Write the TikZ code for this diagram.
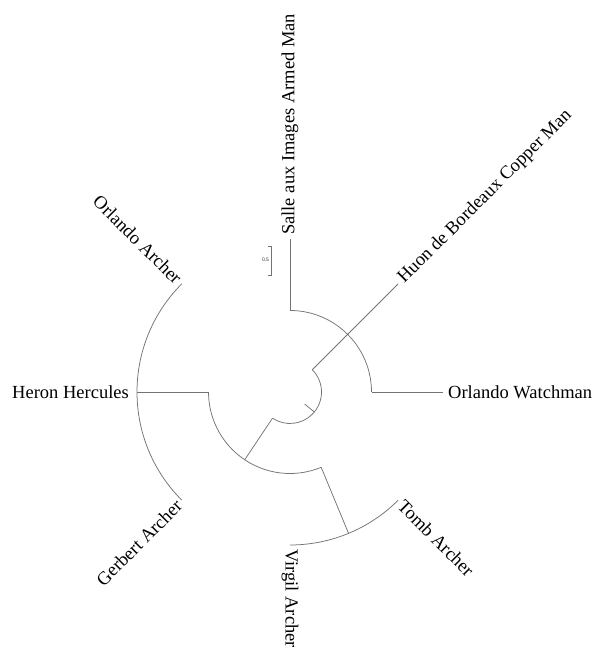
\documentclass[tikz,border=0pt]{standalone}
\usepackage{fontspec}
\setmainfont{Liberation Serif}
\newfontfamily\barfont{Liberation Sans}
\begin{document}
\begin{tikzpicture}[x=1pt,y=1pt,
  br/.style={draw=black!55, line width=0.75pt},
  lab/.style={font=\fontsize{18.5}{20}\selectfont, inner sep=0pt, text=black},
  rlab/.style={lab, anchor=west},
  llab/.style={lab, anchor=east}]
\useasboundingbox (0,0) rectangle (595,651);
\def\R{153}
\def\ri{31.5}
\def\rm{81.5}
\coordinate (C) at (290,259);
% tips
\coordinate (tSalle) at ([shift={(C)}]90:\R);
\coordinate (tHuon)  at ([shift={(C)}]45:\R);
\coordinate (tWatch) at ([shift={(C)}]0:\R);
\coordinate (tTomb)  at ([shift={(C)}]-45:\R);
\coordinate (tVirg)  at ([shift={(C)}]-90:\R);
\coordinate (tGerb)  at ([shift={(C)}]225:\R);
\coordinate (tHeron) at ([shift={(C)}]180:\R);
\coordinate (tOA)    at ([shift={(C)}]135:\R);
% internal nodes
\coordinate (nHuonIn) at ([shift={(C)}]45:\ri);
\coordinate (nSW0)    at ([shift={(C)}]0:\rm);
\coordinate (nSW90)   at ([shift={(C)}]90:\rm);
\coordinate (nHV180)  at ([shift={(C)}]180:\rm);
\coordinate (nVT)     at ([shift={(C)}]-67.5:\rm);
\coordinate (nVTout)  at ([shift={(C)}]-67.5:\R);
\coordinate (nHVin)   at ([shift={(C)}]-123.75:\ri);
\coordinate (nHVout)  at ([shift={(C)}]-123.75:\rm);
\coordinate (nRoot)   at ([shift={(C)}]-39.4:\ri);
\coordinate (nRootEnd) at ([shift={(C)}]-39.4:19);
% branches
\draw[br] (nHuonIn) -- (tHuon);
\draw[br] (nSW0) arc[start angle=0, end angle=90, radius=\rm];
\draw[br] (nSW90) -- (tSalle);
\draw[br] (nSW0) -- (tWatch);
\draw[br] (tOA) arc[start angle=135, end angle=225, radius=\R];
\draw[br] (nHV180) -- (tHeron);
\draw[br] (nHV180) arc[start angle=180, end angle=292.5, radius=\rm];
\draw[br] (nVT) -- (nVTout);
\draw[br] (tVirg) arc[start angle=270, end angle=315, radius=\R];
\draw[br] (nHVin) -- (nHVout);
\draw[br] (nHuonIn) arc[start angle=45, end angle=-123.75, radius=\ri];
\draw[br] (nRoot) -- (nRootEnd);
% labels
\node[rlab, rotate=90]  (lSalle) at ([shift={(C)}]90:157) {Salle aux Images Armed Man};
\node[rlab, rotate=45]  (lHuon)  at ([shift={(C)}]45:157) {Huon de Bordeaux Copper Man};
\node[rlab]             (lWatch) at ([shift={(C)}]0:158) {Orlando Watchman};
\node[rlab, rotate=-45] (lTomb)  at ([shift={(C)}]-45:157) {Tomb Archer};
\node[rlab, rotate=-90] (lVirg)  at ([shift={(C)}]-90:157) {Virgil Archer};
\node[llab, rotate=45]  (lGerb)  at ([shift={(C)}]225:157) {Gerbert Archer};
\node[llab]             (lHeron) at ([shift={(C)}]180:161) {Heron Hercules};
\node[llab, rotate=-45] (lOA)    at ([shift={(C)}]135:157) {Orlando Archer};
% scale bar
\coordinate (sbTop) at (271,405);
\coordinate (sbBot) at (271,376);
\draw[br, line width=0.6pt] ([xshift=-3pt]sbTop) -- (sbTop) -- (sbBot) -- ([xshift=-3pt]sbBot);
\node[font=\barfont\fontsize{5}{6}\selectfont, text=black!80, inner sep=0pt] (sbLab) at (265.5,391) {0.5};
\end{tikzpicture}
\end{document}
